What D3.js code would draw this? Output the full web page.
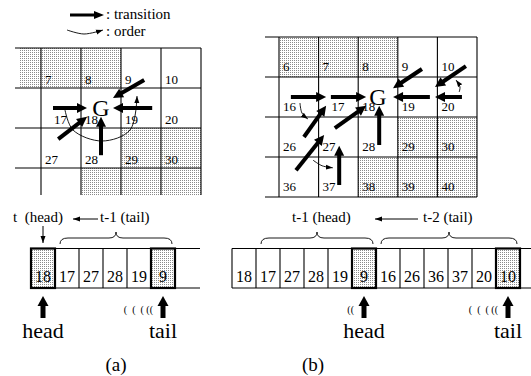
<!DOCTYPE html>
<html>
<head>
<meta charset="utf-8">
<script src="https://cdn.jsdelivr.net/npm/d3@7"></script>
<style>
  body { margin: 0; background: #fff; }
  svg { display: block; }
  text { white-space: pre; }
</style>
</head>
<body>
<div id="chart"></div>
<script>
// grid of states (rows x columns), shaded = obstacles
const cellNumbers = [
  [6, 7, 8, 9, 10],
  [16, 17, 18, 19, 20],
  [26, 27, 28, 29, 30],
  [36, 37, 38, 39, 40]
];
const shadedCells = [6, 7, 8, 29, 30, 38, 39, 40];
const goalLabel = 'G';

// transitions, [col,row] in grid units
const transitionsA = [
  [[1.3, 1.5], [2.15, 1.5]],
  [[3.78, 1.5], [2.8, 1.5]],
  [[3.58, 0.8], [2.8, 1.25]],
  [[1.43, 2.28], [2.15, 1.72]],
  [[2.5, 2.68], [2.5, 1.72]]
];
const transitionsB = [
  [[0.3, 1.5], [1.19, 1.5]],
  [[1.31, 1.5], [2.2, 1.5]],
  [[3.81, 1.5], [2.88, 1.5]],
  [[4.62, 1.5], [3.94, 1.5]],
  [[3.61, 0.8], [2.88, 1.28]],
  [[4.72, 0.73], [3.94, 1.25]],
  [[2.53, 2.7], [2.53, 1.72]],
  [[0.63, 2.5], [1.19, 1.72]],
  [[1.41, 2.28], [2.2, 1.72]],
  [[0.43, 3.33], [1.14, 2.45]],
  [[1.52, 3.7], [1.52, 2.72]]
];
// order curves
const orderA = [
  [[1.6, 1.55], [1.8, 2.05], [2.525, 2.325], [3.225, 2.05], [3.4, 1.2]]
];
const orderB = [
  [[0.53, 1.65], [0.58, 1.9], [0.73, 2.05]],
  [[0.86, 3.08], [1.09, 3.22], [1.36, 3.27]],
  [[4.55, 1.375], [4.57, 1.25], [4.47, 1.075]]
];

// queues
const queueA = [18, 17, 27, 28, 19, 9];
const queueB = [18, 17, 27, 28, 19, 9, 16, 26, 36, 37, 20, 10];
const pointersA = [{ idx: 0, label: 'head', marks: '' }, { idx: 5, label: 'tail', marks: '(  (  ( ((' }];
const pointersB = [{ idx: 5, label: 'head', marks: '((' }, { idx: 11, label: 'tail', marks: '(  (  ( ((' }];
const bracesA = [[1, 5]];
const bracesB = [[1, 5], [6, 11]];
const legendLabels = [': transition', ': order'];
const panelLabels = ['(a)', '(b)'];

const W = 531, H = 376;
const svg = d3.select('#chart').append('svg').attr('width', W).attr('height', H)
  .attr('font-family', '"Liberation Serif", "DejaVu Serif", "Times New Roman", serif');
const defs = svg.append('defs');

const pat = defs.append('pattern').attr('id', 'dots')
  .attr('width', 2).attr('height', 2).attr('patternUnits', 'userSpaceOnUse');
pat.append('rect').attr('width', 2).attr('height', 2).attr('fill', '#fff');
pat.append('rect').attr('width', 1).attr('height', 1).attr('fill', '#8a8a8a');

defs.append('marker').attr('id', 'thin')
  .attr('markerUnits', 'userSpaceOnUse')
  .attr('markerWidth', 8).attr('markerHeight', 6)
  .attr('refX', 7).attr('refY', 3).attr('orient', 'auto')
  .append('path').attr('d', 'M0,0.5L7,3L0,5.5Z').attr('fill', '#000');

function arrow(g, p1, p2, w, head, hw) {
  const [x1, y1] = p1, [x2, y2] = p2;
  const L = Math.hypot(x2 - x1, y2 - y1), ux = (x2 - x1) / L, uy = (y2 - y1) / L;
  const bx = x2 - ux * head, by = y2 - uy * head;
  g.append('line')
    .attr('x1', x1).attr('y1', y1).attr('x2', bx + ux).attr('y2', by + uy)
    .attr('stroke', '#000').attr('stroke-width', w);
  g.append('path')
    .attr('d', `M${x2},${y2}L${bx - uy * hw / 2},${by + ux * hw / 2}L${bx + uy * hw / 2},${by - ux * hw / 2}Z`)
    .attr('fill', '#000');
}

// ---- grids
function drawGrid(cfg) {
  const g = svg.append('g');
  const x = d3.scaleLinear().domain([0, 5]).range(cfg.xRange);
  const y = d3.scaleLinear().domain([0, 4]).range(cfg.yRange);
  const v = cfg.view;
  defs.append('clipPath').attr('id', cfg.id)
    .append('rect').attr('x', v.left + cfg.shadeInset).attr('y', v.top)
    .attr('width', v.right - v.left - cfg.shadeInset).attr('height', v.bottom - v.top);

  const cells = [];
  cellNumbers.forEach((row, r) => row.forEach((n, c) => cells.push({ n, r, c })));

  const inner = g.append('g').attr('clip-path', `url(#${cfg.id})`);
  inner.selectAll('rect').data(cells.filter(d => shadedCells.includes(d.n))).join('rect')
    .attr('x', d => x(d.c)).attr('y', d => y(d.r))
    .attr('width', d => x(d.c + 1) - x(d.c)).attr('height', d => y(d.r + 1) - y(d.r))
    .attr('fill', 'url(#dots)');

  inner.selectAll('text').data(cells).join('text')
    .attr('x', d => x(d.c) + (d.n === 17 ? 13 : 4))
    .attr('y', d => y(d.r + 1) - cfg.labelDy)
    .attr('font-size', 13)
    .text(d => d.n);

  // lines
  d3.range(0, 5).forEach(r => {
    const yy = y(r);
    if (yy >= v.top - 1 && yy <= v.bottom)
      g.append('line').attr('x1', v.left).attr('x2', v.right).attr('y1', yy).attr('y2', yy)
        .attr('stroke', '#000').attr('stroke-width', 1.1);
  });
  d3.range(0, 6).forEach(c => {
    const xx = x(c);
    if (xx >= v.left && xx <= v.right + 1)
      g.append('line').attr('x1', xx).attr('x2', xx).attr('y1', v.top).attr('y2', v.bottom)
        .attr('stroke', '#000').attr('stroke-width', 1.1);
  });

  g.append('text').attr('x', x(2.5)).attr('y', y(1.7))
    .attr('text-anchor', 'middle').attr('font-size', 24).text(goalLabel);

  const line = d3.line().x(d => x(d[0])).y(d => y(d[1])).curve(d3.curveCatmullRom);
  g.selectAll('path.order').data(cfg.order).join('path').attr('class', 'order')
    .attr('d', line).attr('fill', 'none').attr('stroke', '#000').attr('stroke-width', 0.9)
    .attr('marker-end', 'url(#thin)');

  cfg.trans.forEach(t => arrow(g, [x(t[0][0]), y(t[0][1])], [x(t[1][0]), y(t[1][1])], 4, 10, 10));
}

drawGrid({ id: 'clipA', xRange: [1, 201], yRange: [48, 208],
  view: { left: 15, right: 201, top: 48, bottom: 195 }, shadeInset: 5, labelDy: 4.5,
  trans: transitionsA, order: orderA });
drawGrid({ id: 'clipB', xRange: [279, 477], yRange: [37, 197],
  view: { left: 265, right: 477, top: 37, bottom: 197 }, shadeInset: 14, labelDy: 6.5,
  trans: transitionsB, order: orderB });

// ---- legend
const leg = svg.append('g');
arrow(leg, [70, 15], [104, 15], 3, 10, 8);
leg.append('path').attr('d', d3.line().curve(d3.curveCatmullRom)([[67, 30], [84, 34], [103, 30]]))
  .attr('fill', 'none').attr('stroke', '#000').attr('stroke-width', 0.9).attr('marker-end', 'url(#thin)');
leg.selectAll('text').data(legendLabels).join('text')
  .attr('x', 106).attr('y', (d, i) => 19 + i * 17).attr('font-size', 15).text(d => d);

// ---- queues
function brace(g, x1, x2, y) {
  const m = (x1 + x2) / 2;
  g.append('path')
    .attr('d', `M${x1},${y + 12}Q${x1},${y + 6} ${x1 + 8},${y + 6}L${m - 7},${y + 6}Q${m},${y + 6} ${m},${y}` +
      `Q${m},${y + 6} ${m + 7},${y + 6}L${x2 - 8},${y + 6}Q${x2},${y + 6} ${x2},${y + 12}`)
    .attr('fill', 'none').attr('stroke', '#000').attr('stroke-width', 0.9);
}

function drawQueue(cfg) {
  const g = svg.append('g');
  const xq = d3.scaleBand().domain(d3.range(cfg.values.length)).range(cfg.range);
  const bw = xq.bandwidth();
  const top = 248.5, bot = 288;
  const marked = cfg.pointers.map(p => p.idx);

  g.selectAll('rect.m').data(marked).join('rect').attr('class', 'm')
    .attr('x', d => xq(d)).attr('y', top).attr('width', bw).attr('height', bot - top)
    .attr('fill', 'url(#dots)');
  g.append('line').attr('x1', cfg.range[0]).attr('x2', cfg.extend).attr('y1', top).attr('y2', top)
    .attr('stroke', '#000').attr('stroke-width', 1.1);
  g.append('line').attr('x1', cfg.range[0]).attr('x2', cfg.extend).attr('y1', bot).attr('y2', bot)
    .attr('stroke', '#000').attr('stroke-width', 1.1);
  g.selectAll('line.sep').data(d3.range(cfg.values.length + 1)).join('line').attr('class', 'sep')
    .attr('x1', d => xq(d) ?? cfg.range[1]).attr('x2', d => xq(d) ?? cfg.range[1])
    .attr('y1', top).attr('y2', bot).attr('stroke', '#000').attr('stroke-width', 1.1);
  g.selectAll('rect.b').data(marked).join('rect').attr('class', 'b')
    .attr('x', d => xq(d)).attr('y', top).attr('width', bw).attr('height', bot - top)
    .attr('fill', 'none').attr('stroke', '#000').attr('stroke-width', 2.2);

  g.selectAll('text.v').data(cfg.values).join('text').attr('class', 'v')
    .attr('x', (d, i) => xq(i) + bw / 2).attr('y', 282)
    .attr('text-anchor', 'middle').attr('font-size', 16).text(d => d);

  cfg.braces.forEach(b => brace(g, xq(b[0]) + 5, xq(b[1]) + bw - 3, 232));

  cfg.pointers.forEach(p => {
    const cx = xq(p.idx) + bw / 2;
    arrow(g, [cx, 318], [cx, 296], 5, 10, 11);
    g.append('text').attr('x', cx).attr('y', 338).attr('text-anchor', 'middle')
      .attr('font-size', 22).text(p.label);
    if (p.marks)
      g.append('text').attr('x', cx - 10).attr('y', 313).attr('text-anchor', 'end')
        .attr('font-size', 10).text(p.marks);
  });

  cfg.labels.forEach(l => g.append('text').attr('x', l[1]).attr('y', 222).attr('font-size', 15).text(l[0]));
  g.append('line').attr('x1', cfg.arrow[0]).attr('x2', cfg.arrow[1]).attr('y1', 219).attr('y2', 219)
    .attr('stroke', '#000').attr('stroke-width', 1).attr('marker-end', 'url(#thin)');
  if (cfg.down) {
    const cx = xq(0) + bw / 2;
    g.append('line').attr('x1', cx).attr('x2', cx).attr('y1', 226).attr('y2', 243)
      .attr('stroke', '#000').attr('stroke-width', 1).attr('marker-end', 'url(#thin)');
  }
  g.append('text').attr('x', cfg.panelX).attr('y', 371).attr('text-anchor', 'middle')
    .attr('font-size', 19).text(cfg.panel);
}

drawQueue({ values: queueA, range: [31, 175], extend: 200, pointers: pointersA, braces: bracesA,
  labels: [['t  (head)', 13], ['t-1 (tail)', 100]], arrow: [98, 73], down: true,
  panel: panelLabels[0], panelX: 116 });
drawQueue({ values: queueB, range: [232, 520], extend: 531, pointers: pointersB, braces: bracesB,
  labels: [['t-1 (head)', 292], ['t-2 (tail)', 423]], arrow: [418, 375], down: false,
  panel: panelLabels[1], panelX: 313 });
</script>
</body>
</html>
